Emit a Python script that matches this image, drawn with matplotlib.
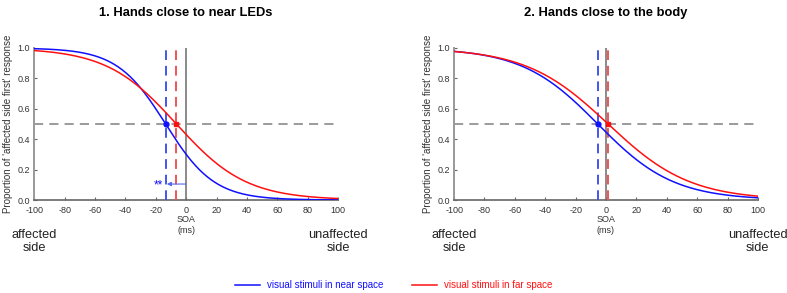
import numpy as np
import matplotlib
matplotlib.use("Agg")
import matplotlib.pyplot as plt
from matplotlib.lines import Line2D

plt.rcParams['font.family'] = ['Liberation Sans', 'DejaVu Sans']

# fitted psychometric functions (PSE and slope in ms)
titles = ['1. Hands close to near LEDs', '2. Hands close to the body']
pse_near = [-13.5, -5.4]
pse_far = [-6.4, 1.4]
slope_near = [16, 25]
slope_far = [23, 27]
xticks = [-100, -80, -60, -40, -20, 0, 20, 40, 60, 80, 100]
yticks = [0.0, 0.2, 0.4, 0.6, 0.8, 1.0]
sig_label = ['**', '']
legend_labels = ['visual stimuli in near space', 'visual stimuli in far space']

blue = '#1010ff'
red = '#ff1010'
soa = np.linspace(-100, 100, 401)


def psychometric(x, pse, slope):
    return 1 / (1 + np.exp((x - pse) / slope))


fig = plt.figure(figsize=(7.87, 2.93), dpi=100)
lefts = [0.0435, 0.577]

for i in range(2):
    ax = fig.add_axes([lefts[i], 0.3174, 0.386, 0.5188])
    ax.plot(soa, psychometric(soa, pse_near[i], slope_near[i]), color=blue, lw=1.1, zorder=4)
    ax.plot(soa, psychometric(soa, pse_far[i], slope_far[i]), color=red, lw=1.1, zorder=4)

    ax.axhline(0.5, color='#808080', lw=1.1, ls=(0, (6, 4)), zorder=2)
    ax.plot([0, 0], [0, 1], color='#777777', lw=1.2, zorder=2)
    ax.plot([pse_near[i]] * 2, [0, 1], color='#4455ee', lw=1.4, ls=(0, (5, 3)), zorder=3)
    ax.plot([pse_far[i]] * 2, [0, 1], color='#f05555', lw=1.4, ls=(0, (5, 3)), zorder=3)
    ax.plot(pse_near[i], 0.5, 'o', color=blue, ms=3.5, zorder=5)
    ax.plot(pse_far[i], 0.5, 's', color=red, ms=3.5, zorder=5)

    if sig_label[i]:
        ax.annotate('', xy=(pse_near[i] + 0.8, 0.105), xytext=(0, 0.105),
                    arrowprops=dict(arrowstyle='-|>', color='#5566ee', lw=0.8,
                                    mutation_scale=6, shrinkA=0, shrinkB=0))
        ax.text(pse_near[i] - 1.5, 0.095, sig_label[i], color=blue, fontsize=8.5,
                ha='right', va='center')

    ax.set_xlim(-100, 100)
    ax.set_ylim(0, 1)
    ax.set_xticks(xticks)
    ax.set_yticks(yticks)
    ax.set_xticklabels([str(t) for t in xticks])
    ax.set_yticklabels(['%.1f' % t for t in yticks])
    ax.tick_params(direction='in', length=2.5, width=0.8, color='#666666',
                   labelsize=6.5, labelcolor='#333333')
    ax.tick_params(axis='x', pad=4)
    ax.tick_params(axis='y', pad=3)
    for side in ['top', 'right']:
        ax.spines[side].set_visible(False)
    ax.spines['left'].set_color('#999999')
    ax.spines['left'].set_linewidth(1.4)
    ax.spines['bottom'].set_color('#666666')
    ax.spines['bottom'].set_linewidth(1.2)

    ax.set_ylabel("Proportion of 'affected side first' response", fontsize=7,
                  color='#333333', labelpad=3)
    ax.set_title(titles[i], fontsize=9.3, fontweight='bold', pad=23)

    ax.text(0, -0.1, 'SOA\n(ms)', ha='center', va='top', fontsize=6.5,
            color='#333333', linespacing=1.3)
    ax.text(-100, -0.19, 'affected\nside', ha='center', va='top', fontsize=9.2,
            color='#222222', linespacing=1.15)
    ax.text(100, -0.19, 'unaffected\nside', ha='center', va='top', fontsize=9.2,
            color='#222222', linespacing=1.15)

# legend row at the bottom
legend_colors = [blue, red]
legend_x = [235 / 787, 412 / 787]
legend_y = 1 - 285 / 293
for lx, lab, col in zip(legend_x, legend_labels, legend_colors):
    fig.add_artist(Line2D([lx, lx + 25 / 787], [legend_y, legend_y], color=col, lw=1.1))
    fig.text(lx + 32 / 787, legend_y, lab, color=col, fontsize=7, va='center', ha='left')

fig.savefig('out.png', dpi=100)
